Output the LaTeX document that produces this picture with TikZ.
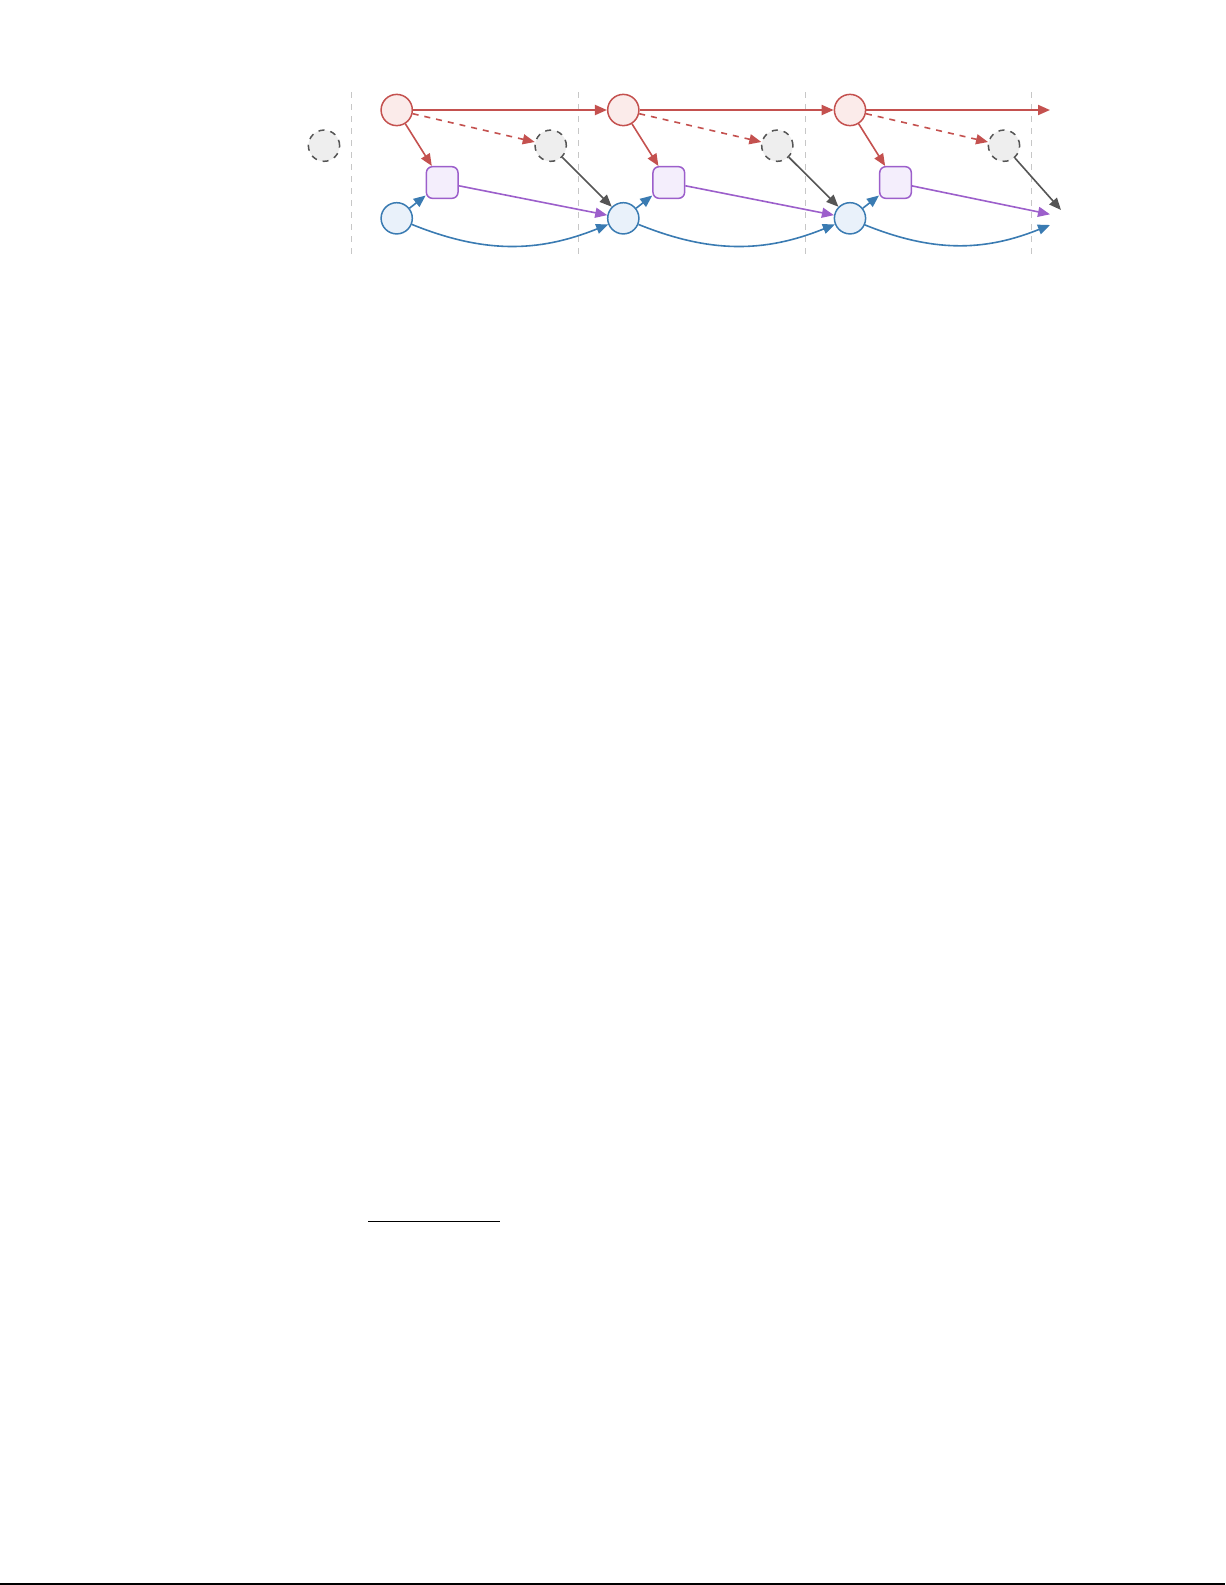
\documentclass[tikz,border=0pt]{standalone}
\usepackage{xcolor}
\usetikzlibrary{arrows.meta}
\definecolor{redline}{HTML}{C4514F}
\definecolor{redfill}{HTML}{FBEBEA}
\definecolor{blueline}{HTML}{3A7BB2}
\definecolor{bluefill}{HTML}{E9F1FA}
\definecolor{purpleline}{HTML}{9C5FCB}
\definecolor{purplefill}{HTML}{F4EEFC}
\definecolor{greyline}{HTML}{555555}
\definecolor{greyfill}{HTML}{EEEEEE}
\tikzset{red state/.style = {circle, draw = redline, fill = redfill, line width = 0.75pt, minimum size = 15.6pt, inner sep = 0pt}}
\tikzset{blue state/.style = {circle, draw = blueline, fill = bluefill, line width = 0.75pt, minimum size = 15.6pt, inner sep = 0pt}}
\tikzset{grey state/.style = {circle, draw = greyline, fill = greyfill, line width = 0.75pt, dashed, minimum size = 15.6pt, inner sep = 0pt}}
\tikzset{purple box/.style = {rectangle, rounded corners = 3pt, draw = purpleline, fill = purplefill, line width = 0.75pt, minimum size = 15.8pt, inner sep = 0pt}}
\tikzset{tip/.style = {-{Triangle[length = 6pt , width = 5pt]}}}
\tikzset{step line/.style = {help lines, draw = black!22, line width = 0.5pt, dash pattern = on 3pt off 3pt}}

\begin{document}
\begin{tikzpicture}[x = 0.49959pt, y = -0.49959pt]

  \useasboundingbox (0 , 0) rectangle (1225 , 1585);

  \def\xa{396.7}
  \def\xb{623.3}
  \def\xc{850}
  \def\xd{1076.6}
  \def\yred{110}
  \def\ygrey{145.7}
  \def\ybox{182.5}
  \def\yblue{218.3}
  \def\gap{45}
  \def\ahead{154}
  \def\inset{45.5}

  \draw [step line] (\xa - \gap , 92) -- (\xa - \gap , 260);
  \draw [step line] (\xb - \gap , 92) -- (\xb - \gap , 260);
  \draw [step line] (\xc - \gap , 92) -- (\xc - \gap , 260);
  \draw [step line] (\xd - \gap , 92) -- (\xd - \gap , 260);

  \node [grey state] (g0) at (324 , \ygrey) {};

  \node [red state] (r1) at (\xa , \yred) {};
  \node [red state] (r2) at (\xb , \yred) {};
  \node [red state] (r3) at (\xc , \yred) {};

  \node [grey state] (g1) at (\xa + \ahead , \ygrey) {};
  \node [grey state] (g2) at (\xb + \ahead , \ygrey) {};
  \node [grey state] (g3) at (\xc + \ahead , \ygrey) {};

  \node [purple box] (p1) at (\xa + \inset , \ybox) {};
  \node [purple box] (p2) at (\xb + \inset , \ybox) {};
  \node [purple box] (p3) at (\xc + \inset , \ybox) {};

  \node [blue state] (b1) at (\xa , \yblue) {};
  \node [blue state] (b2) at (\xb , \yblue) {};
  \node [blue state] (b3) at (\xc , \yblue) {};

  \coordinate (r4) at (1050 , \yred);
  \coordinate (b4grey) at (1061 , 210);
  \coordinate (b4box) at (1050 , 214.3);
  \coordinate (b4blue) at (1050 , 225);

  \draw [tip, draw = redline, line width = 1pt] (r1) -- (r2);
  \draw [tip, draw = redline, line width = 1pt] (r2) -- (r3);
  \draw [tip, draw = redline, line width = 1pt] (r3) -- (r4);

  \draw [tip, draw = redline, line width = 0.8pt, dashed] (r1) -- (g1);
  \draw [tip, draw = redline, line width = 0.8pt, dashed] (r2) -- (g2);
  \draw [tip, draw = redline, line width = 0.8pt, dashed] (r3) -- (g3);

  \draw [tip, draw = redline, line width = 0.8pt] (r1) -- (p1);
  \draw [tip, draw = redline, line width = 0.8pt] (r2) -- (p2);
  \draw [tip, draw = redline, line width = 0.8pt] (r3) -- (p3);

  \draw [tip, draw = blueline, line width = 0.8pt] (b1) -- (p1);
  \draw [tip, draw = blueline, line width = 0.8pt] (b2) -- (p2);
  \draw [tip, draw = blueline, line width = 0.8pt] (b3) -- (p3);

  \draw [tip, draw = purpleline, line width = 0.8pt] (p1) -- (b2);
  \draw [tip, draw = purpleline, line width = 0.8pt] (p2) -- (b3);
  \draw [tip, draw = purpleline, line width = 0.8pt] (p3) -- (b4box);

  \draw [tip, draw = greyline, line width = 0.8pt] (g1) -- (b2);
  \draw [tip, draw = greyline, line width = 0.8pt] (g2) -- (b3);
  \draw [tip, draw = greyline, line width = 0.8pt] (g3) -- (b4grey);

  \draw [tip, draw = blueline, line width = 0.8pt] (b1) to [bend right = 22] (b2);
  \draw [tip, draw = blueline, line width = 0.8pt] (b2) to [bend right = 22] (b3);
  \draw [tip, draw = blueline, line width = 0.8pt] (b3) to [bend right = 22] (b4blue);

  \draw [line width = 0.55pt] (368.3 , 1221.3) -- (500 , 1221.3);
  \draw [line width = 1pt] (0 , 1584) -- (1225 , 1584);

\end{tikzpicture}
\end{document}
